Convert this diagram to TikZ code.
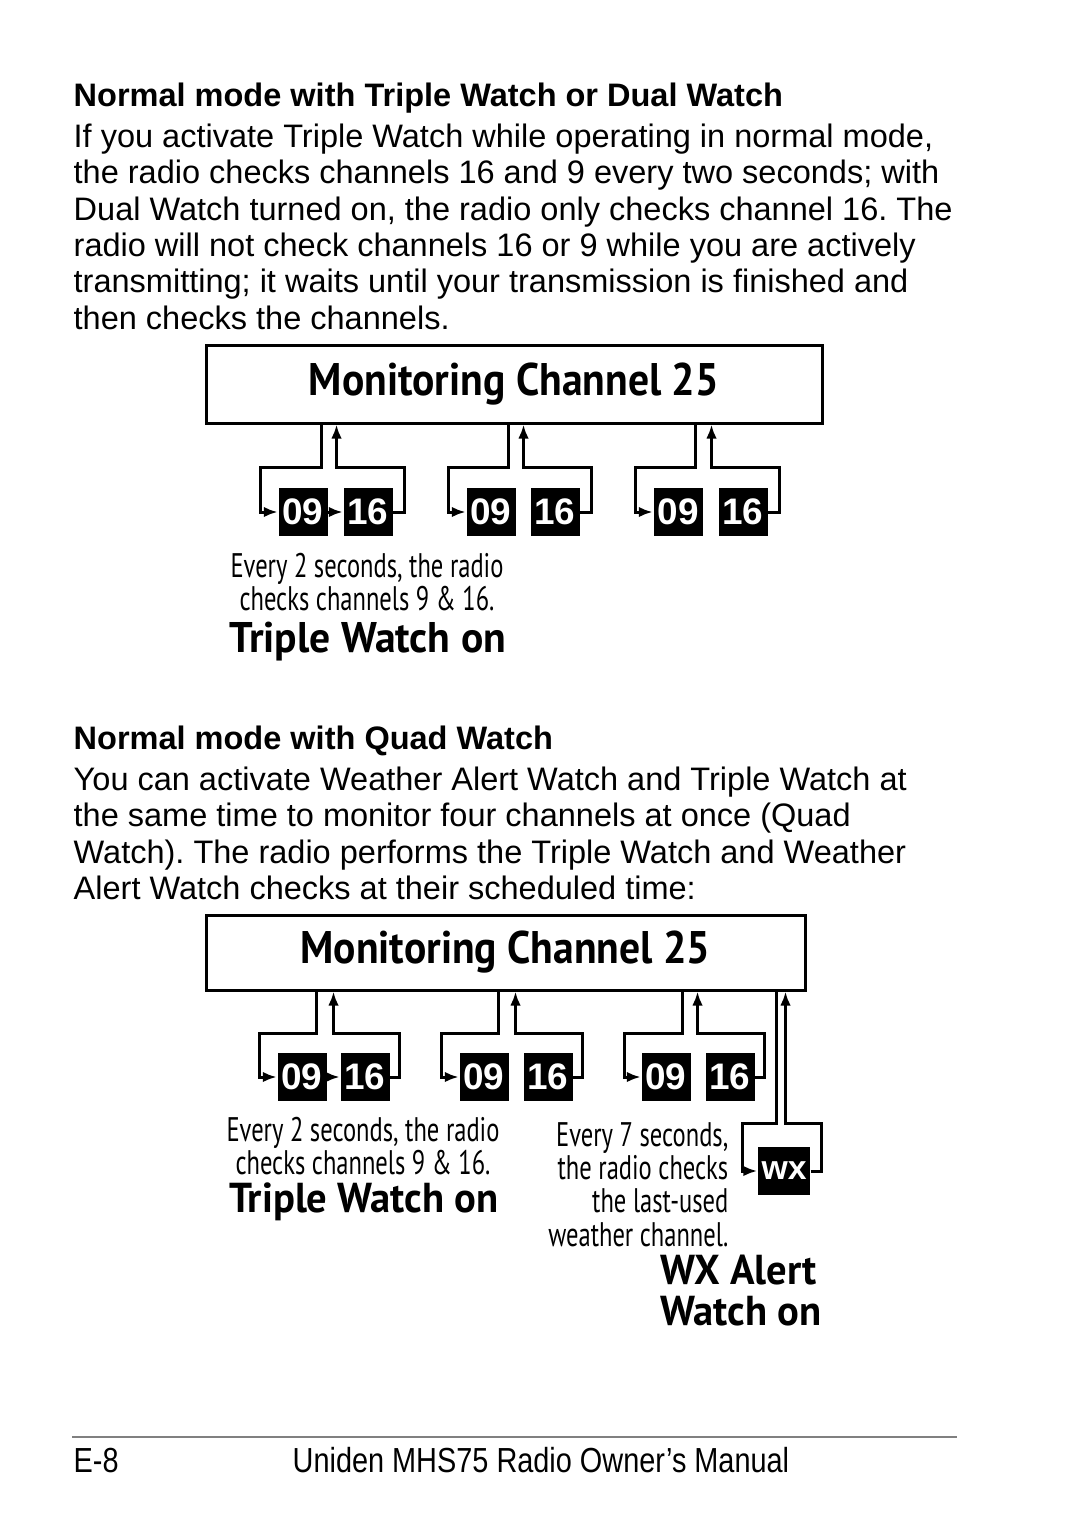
\documentclass[tikz,border=0pt]{standalone}
\usepackage{fontspec}
\setmainfont{Liberation Sans}
\newfontfamily\ptsans[FakeStretch=0.91]{PT Sans}
\newfontfamily\ptcond[FakeStretch=0.72]{PT Sans}
\newfontfamily\ptwide[FakeStretch=0.97]{PT Sans}
\newfontfamily\narrowsans[FakeStretch=0.83]{Liberation Sans}
\usetikzlibrary{arrows.meta,calc}
\frenchspacing

\begin{document}
\begin{tikzpicture}[x=0.1mm,y=-0.1mm]
  \tikzset{>={Latex[length=1.4mm,width=1.05mm]}}
  \tikzset{
    body/.style={anchor=base west,inner sep=0,font=\fontsize{9.25}{11}\selectfont},
    head/.style={body,font=\fontsize{9.25}{11}\selectfont\bfseries},
    foot/.style={anchor=base west,inner sep=0,font=\narrowsans\fontsize{9.9}{11}\selectfont},
    monbox/.style={draw,line width=0.3mm,inner sep=0,font=\ptsans\bfseries\fontsize{13}{13}\selectfont},
    chan/.style={fill=black,text=white,inner sep=0,minimum width=4.9mm,minimum height=4.85mm,font=\fontsize{10.5}{10}\selectfont\bfseries},
    capline/.style={anchor=base,inner sep=0,font=\ptcond\fontsize{9.7}{10}\selectfont},
    capright/.style={capline,anchor=base east},
    watchon/.style={anchor=base,inner sep=0,font=\ptwide\bfseries\fontsize{12.2}{12}\selectfont},
    watchsmall/.style={watchon,font=\ptwide\bfseries\fontsize{11.9}{12}\selectfont},
    wire/.style={line width=0.3mm}
  }
  \useasboundingbox (0,0) rectangle (1080,1522);

  % first section
  \node[head] (h1) at (73,106) {Normal mode with Triple Watch or Dual Watch};
  \node[body] (p1a) at (73,147) {If you activate Triple Watch while operating in normal mode,};
  \node[body] (p1b) at (73,183) {the radio checks channels 16 and 9 every two seconds; with};
  \node[body] (p1c) at (73,220) {Dual Watch turned on, the radio only checks channel 16. The};
  \node[body] (p1d) at (73,256) {radio will not check channels 16 or 9 while you are actively};
  \node[body] (p1e) at (73,292) {transmitting; it waits until your transmission is finished and};
  \node[body] (p1f) at (73,329) {then checks the channels.};

  \node[monbox,minimum width=61.6mm,minimum height=7.8mm] (mon1) at (514,384) {Monitoring Channel 25};

  \node[chan] (a1) at (303,512) {09};
  \node[chan] (b1) at (368,512) {16};
  \node[chan] (a2) at (491,512) {09};
  \node[chan] (b2) at (555,512) {16};
  \node[chan] (a3) at (678,512) {09};
  \node[chan] (b3) at (743,512) {16};

  \draw[wire,->] ($(mon1.south west)+(117,0)$) |- (260,467) |- (a1.west);
  \draw[wire,->] (a1.east) -- (b1.west);
  \draw[wire,->] (b1.east) -| (404,467) -| ($(mon1.south west)+(132,0)$);
  \draw[wire,->] ($(mon1.south west)+(304,0)$) |- (448,467) |- (a2.west);
  \draw[wire,->] (b2.east) -| (591,467) -| ($(mon1.south west)+(319,0)$);
  \draw[wire,->] ($(mon1.south west)+(491,0)$) |- (635,467) |- (a3.west);
  \draw[wire,->] (b3.east) -| (779,467) -| ($(mon1.south west)+(507,0)$);

  \node[capline] (e1a) at (367,577) {Every 2 seconds, the radio};
  \node[capline] (e1b) at (367,610) {checks channels 9 \& 16.};
  \node[watchon] (tw1) at (368,652) {Triple Watch on};

  % second section
  \node[head] (h2) at (73,749) {Normal mode with Quad Watch};
  \node[body] (p2a) at (73,790) {You can activate Weather Alert Watch and Triple Watch at};
  \node[body] (p2b) at (73,826) {the same time to monitor four channels at once (Quad};
  \node[body] (p2c) at (73,863) {Watch). The radio performs the Triple Watch and Weather};
  \node[body] (p2d) at (73,899) {Alert Watch checks at their scheduled time:};

  \node[monbox,minimum width=59.9mm,minimum height=7.5mm] (mon2) at (505.5,952.5) {Monitoring Channel 25};

  \node[chan] (c1) at (302,1077) {09};
  \node[chan] (d1) at (365,1077) {16};
  \node[chan] (c2) at (484,1077) {09};
  \node[chan] (d2) at (548,1077) {16};
  \node[chan] (c3) at (666,1077) {09};
  \node[chan] (d3) at (730,1077) {16};
  \node[chan,minimum width=5.2mm,minimum height=4.8mm,font=\fontsize{9.6}{10}\selectfont\bfseries] (wx) at (784,1171) {wx};

  \draw[wire,->] ($(mon2.south west)+(112,0)$) |- (259,1033) |- (c1.west);
  \draw[wire,->] (c1.east) -- (d1.west);
  \draw[wire,->] (d1.east) -| (399,1033) -| ($(mon2.south west)+(129,0)$);
  \draw[wire,->] ($(mon2.south west)+(294,0)$) |- (441,1033) |- (c2.west);
  \draw[wire,->] (d2.east) -| (582,1033) -| ($(mon2.south west)+(311,0)$);
  \draw[wire,->] ($(mon2.south west)+(478,0)$) |- (624,1033) |- (c3.west);
  \draw[wire,->] (d3.east) -| (764,1033) -| ($(mon2.south west)+(493,0)$);
  \draw[wire,->] ($(mon2.south west)+(572,0)$) |- (742,1123) |- (wx.west);
  \draw[wire,->] (wx.east) -| (821,1123) -| ($(mon2.south west)+(581,0)$);

  \node[capline] (e2a) at (363,1141) {Every 2 seconds, the radio};
  \node[capline] (e2b) at (363,1174) {checks channels 9 \& 16.};
  \node[watchsmall] (tw2) at (364,1212) {Triple Watch on};

  \node[capright] (s7a) at (729,1146) {Every 7 seconds,};
  \node[capright] (s7b) at (729,1179) {the radio checks};
  \node[capright] (s7c) at (729,1212) {the last-used};
  \node[capright] (s7d) at (729,1246) {weather channel.};
  \node[watchsmall,anchor=base west] (wxa) at (660,1284) {WX Alert};
  \node[watchsmall,anchor=base west] (wxb) at (660,1325) {Watch on};

  % footer
  \draw[gray,line width=0.15mm] (72,1437) -- (957,1437);
  \node[foot] (pg) at (73,1472) {E-8};
  \node[foot] (man) at (292,1472) {Uniden MHS75 Radio Owner’s Manual};
\end{tikzpicture}
\end{document}
